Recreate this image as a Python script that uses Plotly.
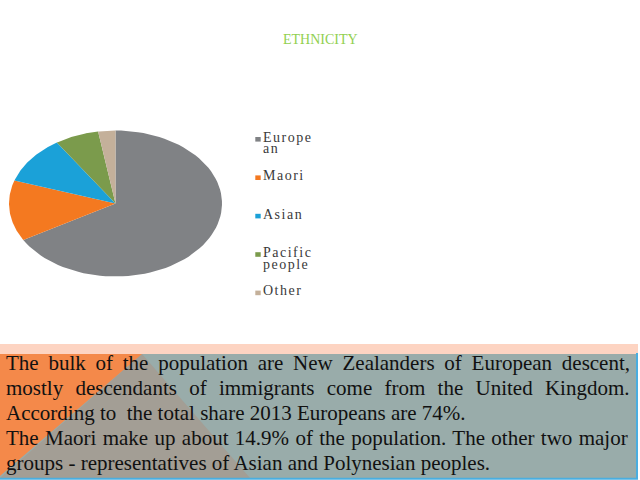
import numpy as np
import plotly.graph_objects as go

# ethnic groups, 2013 census (multiple answers allowed, so shares add up over 100)
groups = ["European", "Maori", "Asian", "Pacific people", "Other"]
shares = [74.0, 14.9, 11.8, 7.4, 2.9]
legend_lines = [["Europe", "an"], ["Maori"], ["Asian"], ["Pacific", "people"], ["Other"]]
colors = ["#808285", "#f47920", "#1ba1d8", "#7b9b4c", "#c4b09a"]

title = "ETHNICITY"
text_lines = [
    "The bulk of the population are New Zealanders of European descent,",
    "mostly descendants of immigrants come from the United Kingdom.",
    "According to\u00a0 the total share 2013 Europeans are 74%.",
    "The Maori make up about 14.9% of the population. The other two major",
    "groups - representatives of Asian and Polynesian peoples.",
]
# extra word gap (px) to fake the justified lines of the slide
word_gap = [4.5, 7, 0, 1.1, 0]

# the pie is drawn squashed (seen at an angle), centre and radii in px
cx, cy, rx, ry = 115.5, 203.5, 106.5, 73

fig = go.Figure()

vals = np.array(shares)
edges = np.concatenate([[0], np.cumsum(vals) / vals.sum()]) * 2 * np.pi
for i, g in enumerate(groups):
    a = np.linspace(edges[i], edges[i + 1], 80)
    xs = np.concatenate([[cx], cx + rx * np.sin(a), [cx]])
    ys = np.concatenate([[cy], cy - ry * np.cos(a), [cy]])
    fig.add_trace(go.Scatter(x=xs, y=ys, mode="lines", fill="toself",
                             fillcolor=colors[i], line=dict(width=0),
                             name=g, showlegend=False, hoverinfo="name"))

shapes = []
annotations = []

# legend, drawn by hand so the wrapped labels keep the slide's spacing
lx, ly0, step = 258, 139.3, 38.4
for i, lines in enumerate(legend_lines):
    yy = ly0 + i * step
    shapes.append(dict(type="rect", xref="x", yref="y", x0=lx - 2.7, x1=lx + 2.7,
                       y0=yy - 2.3, y1=yy + 2.3, fillcolor=colors[i], line_width=0))
    for k, t in enumerate(lines):
        annotations.append(dict(
            x=lx + 3, y=yy - 2 + k * 11.5, xref="x", yref="y",
            text='<span style="letter-spacing:1.5px">' + t + '</span>',
            showarrow=False, xanchor="left", yanchor="middle",
            font=dict(family="Liberation Serif", size=14, color="#3a3a3a")))

annotations.append(dict(x=320, y=39, xref="x", yref="y", text=title, showarrow=False,
                        xanchor="center", yanchor="middle",
                        font=dict(family="Liberation Serif", size=14, color="#92d050")))

# text box at the bottom with the theme's coloured shapes behind it
shapes += [
    dict(type="rect", xref="x", yref="y", x0=0, x1=638, y0=344, y1=354,
         fillcolor="#fdd4c2", line_width=0, layer="below"),
    dict(type="rect", xref="x", yref="y", x0=0, x1=637, y0=354, y1=478,
         fillcolor="#99acaa", line_width=0, layer="below"),
    dict(type="path", xref="x", yref="y", path="M142,354 L250,478 L0,478 Z",
         fillcolor="#a39e95", line_width=0, layer="below"),
    dict(type="path", xref="x", yref="y", path="M0,354 L142,354 L0,476 Z",
         fillcolor="#f4894a", line_width=0, layer="below"),
    dict(type="line", xref="x", yref="y", x0=637, x1=637, y0=353, y1=479,
         line=dict(color="#4aaee0", width=2)),
    dict(type="line", xref="x", yref="y", x0=0, x1=638, y0=478.8, y1=478.8,
         line=dict(color="#4aaee0", width=2)),
]

for i, t in enumerate(text_lines):
    if word_gap[i]:
        t = '<span style="word-spacing:%spx">%s</span>' % (word_gap[i], t)
    annotations.append(dict(
        x=4, y=362.5 + i * 25.2, xref="x", yref="y", text=t, showarrow=False,
        xanchor="left", yanchor="middle",
        font=dict(family="Liberation Serif", size=21, color="#111111")))

fig.update_layout(
    width=640, height=480,
    margin=dict(l=0, r=0, t=0, b=0),
    paper_bgcolor="white", plot_bgcolor="white",
    xaxis=dict(range=[0, 640], visible=False, fixedrange=True),
    yaxis=dict(range=[480, 0], visible=False, fixedrange=True),
    shapes=shapes, annotations=annotations,
    showlegend=False,
)

# the page's default body margin would push the slide 8px off
fig.write_html("out.html", config={"displayModeBar": False},
               post_script="document.body.style.margin='0';")
